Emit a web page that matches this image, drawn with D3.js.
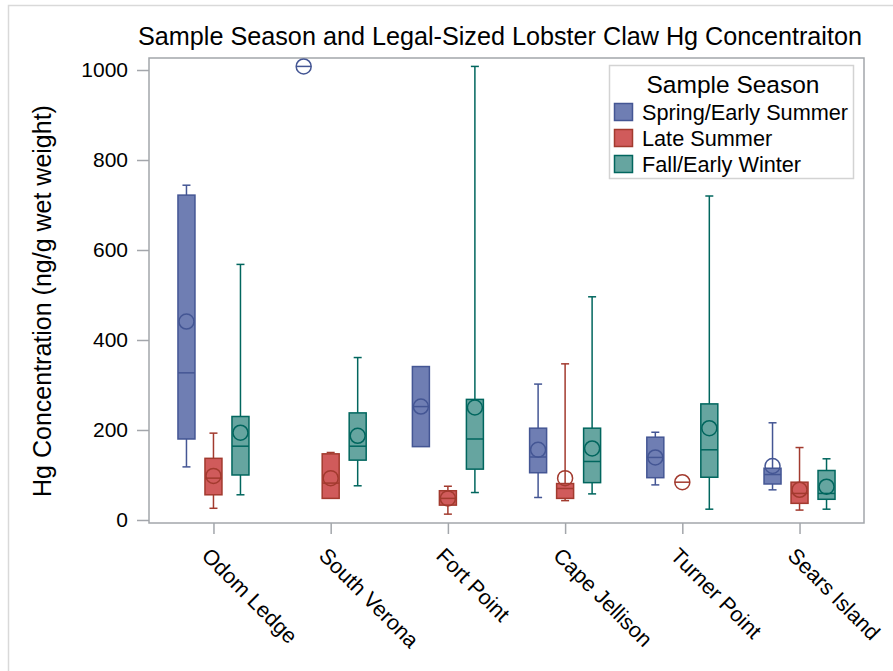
<!DOCTYPE html>
<html>
<head>
<meta charset="utf-8">
<script src="https://cdn.jsdelivr.net/npm/d3@7"></script>
<style>
  html, body { margin: 0; padding: 0; background: #fff; }
  svg { display: block; font-family: "Liberation Sans", Arial, sans-serif; }
</style>
</head>
<body>
<svg id="chart" width="893" height="671"></svg>
<script>
// Sampling sites along the x axis
const sites = ["Odom Ledge", "South Verona", "Fort Point", "Cape Jellison", "Turner Point", "Sears Island"];
const seasons = ["Spring/Early Summer", "Late Summer", "Fall/Early Winter"];

// Box statistics per site: [min, q1, median, q3, max, mean] in ng/g wet weight
const springStats = [
  [118, 180, 327, 722, 744, 441],
  [1008, 1008, 1008, 1008, 1008, 1008],
  [163, 163, 252, 341, 341, 252],
  [50, 105, 140, 204, 302, 156],
  [78, 94, 139, 184, 195, 139],
  [67, 80, 101, 115, 216, 120]
];
const lateStats = [
  [26, 56, 93, 137, 193, 98],
  [48, 48, 82, 147, 150, 93],
  [13, 33, 48, 65, 75, 48],
  [43, 48, 70, 81, 347, 93],
  [84, 84, 84, 84, 84, 84],
  [22, 37, 59, 84, 161, 67]
];
const fallStats = [
  [56, 100, 164, 230, 568, 194],
  [76, 133, 164, 238, 361, 187],
  [61, 113, 180, 268, 1008, 250],
  [58, 83, 130, 204, 496, 159],
  [24, 95, 156, 258, 720, 204],
  [24, 46, 59, 110, 136, 74]
];
const yTicks = [0, 200, 400, 600, 800, 1000];

const fills = ["#6F7EB3", "#D05B5B", "#66A5A0"];
const strokes = ["#445694", "#A23A2E", "#01665E"];

const svg = d3.select("#chart");
const W = 893, H = 671;
const plot = { left: 149, right: 864, top: 58, bottom: 523 };

// Outer graph border
svg.append("rect")
  .attr("x", 8.5).attr("y", 5.5).attr("width", W + 10).attr("height", H + 10)
  .attr("fill", "none").attr("stroke", "#d9d9d9").attr("stroke-width", 1.5);

// Title
svg.append("text")
  .attr("x", 500).attr("y", 45)
  .attr("text-anchor", "middle")
  .attr("font-size", 25.2)
  .attr("fill", "#000")
  .text("Sample Season and Legal-Sized Lobster Claw Hg Concentraiton");

const x = d3.scalePoint().domain(sites).range([plot.left, plot.right]).padding(0.55);
const inner = d3.scalePoint().domain(seasons).range([-27, 27]);
const y = d3.scaleLinear().domain([-6.7, 1026.7]).range([plot.bottom, plot.top]);

const boxW = 17, capW = 8, meanR = 7.5;

// Axes
const frameColor = "#a3a6ab";
const yAxis = svg.append("g")
  .attr("transform", `translate(${plot.left},0)`)
  .call(d3.axisLeft(y).tickValues(yTicks).tickFormat(d3.format("d"))
    .tickSize(12).tickPadding(9).tickSizeOuter(0));
yAxis.select(".domain").remove();
yAxis.selectAll(".tick line").attr("stroke", frameColor).attr("stroke-width", 1.5);
yAxis.selectAll(".tick text").attr("font-size", 21).attr("fill", "#000")
  .attr("font-family", "Liberation Sans, Arial, sans-serif");

const xAxis = svg.append("g")
  .attr("transform", `translate(0,${plot.bottom})`)
  .call(d3.axisBottom(x).tickSize(11).tickSizeOuter(0));
xAxis.select(".domain").remove();
xAxis.selectAll(".tick line").attr("stroke", frameColor).attr("stroke-width", 1.5);
xAxis.selectAll(".tick text").remove();

// Rotated site labels
svg.append("g").selectAll("text")
  .data(sites).join("text")
  .attr("transform", d => `translate(${x(d) - 13},${557}) rotate(45)`)
  .attr("font-size", 21.5)
  .attr("fill", "#000")
  .text(d => d);

// Axis label
svg.append("text")
  .attr("transform", `translate(51,${301}) rotate(-90)`)
  .attr("text-anchor", "middle")
  .attr("font-size", 25)
  .attr("fill", "#000")
  .text("Hg Concentration (ng/g wet weight)");

// Plot frame
svg.append("rect")
  .attr("x", plot.left).attr("y", plot.top)
  .attr("width", plot.right - plot.left).attr("height", plot.bottom - plot.top)
  .attr("fill", "none").attr("stroke", frameColor).attr("stroke-width", 1.5);

// Boxes
const allStats = [springStats, lateStats, fallStats];
const boxes = [];
allStats.forEach((arr, si) => {
  arr.forEach((s, ci) => {
    boxes.push({ site: sites[ci], season: seasons[si], si,
      min: s[0], q1: s[1], med: s[2], q3: s[3], max: s[4], mean: s[5] });
  });
});

const g = svg.append("g");
boxes.forEach(b => {
  const cx = x(b.site) + inner(b.season);
  const col = strokes[b.si];
  const bg = g.append("g");
  // whiskers
  if (b.max > b.q3) {
    bg.append("line").attr("x1", cx).attr("x2", cx).attr("y1", y(b.q3)).attr("y2", y(b.max))
      .attr("stroke", col).attr("stroke-width", 1.5);
    bg.append("line").attr("x1", cx - capW / 2).attr("x2", cx + capW / 2).attr("y1", y(b.max)).attr("y2", y(b.max))
      .attr("stroke", col).attr("stroke-width", 1.5);
  }
  if (b.min < b.q1) {
    bg.append("line").attr("x1", cx).attr("x2", cx).attr("y1", y(b.q1)).attr("y2", y(b.min))
      .attr("stroke", col).attr("stroke-width", 1.5);
    bg.append("line").attr("x1", cx - capW / 2).attr("x2", cx + capW / 2).attr("y1", y(b.min)).attr("y2", y(b.min))
      .attr("stroke", col).attr("stroke-width", 1.5);
  }
  const single = b.q3 === b.q1;
  if (!single) {
    bg.append("rect")
      .attr("x", cx - boxW / 2).attr("y", y(b.q3))
      .attr("width", boxW).attr("height", y(b.q1) - y(b.q3))
      .attr("fill", fills[b.si]).attr("stroke", col).attr("stroke-width", 1.5);
  }
  // median
  const mw = single ? meanR * 2 : boxW;
  bg.append("line").attr("x1", cx - mw / 2).attr("x2", cx + mw / 2)
    .attr("y1", y(b.med)).attr("y2", y(b.med))
    .attr("stroke", col).attr("stroke-width", 1.5);
  // mean marker
  bg.append("circle").attr("cx", cx).attr("cy", y(b.mean)).attr("r", meanR)
    .attr("fill", "none").attr("stroke", col).attr("stroke-width", 1.5);
});

// Legend
const lg = svg.append("g");
lg.append("rect").attr("x", 609.5).attr("y", 65.5).attr("width", 244).attr("height", 113)
  .attr("fill", "#fff").attr("stroke", "#d3d3d3").attr("stroke-width", 1.5);
lg.append("text").attr("x", 733).attr("y", 93).attr("text-anchor", "middle")
  .attr("font-size", 24.5).attr("fill", "#000").text("Sample Season");
seasons.forEach((s, i) => {
  const yy = 103 + i * 26;
  lg.append("rect").attr("x", 614.5).attr("y", yy + 0.5).attr("width", 18).attr("height", 17)
    .attr("fill", fills[i]).attr("stroke", strokes[i]).attr("stroke-width", 1.5);
  lg.append("text").attr("x", 642).attr("y", yy + 17).attr("font-size", 21.7)
    .attr("fill", "#000").text(s);
});
</script>
</body>
</html>
